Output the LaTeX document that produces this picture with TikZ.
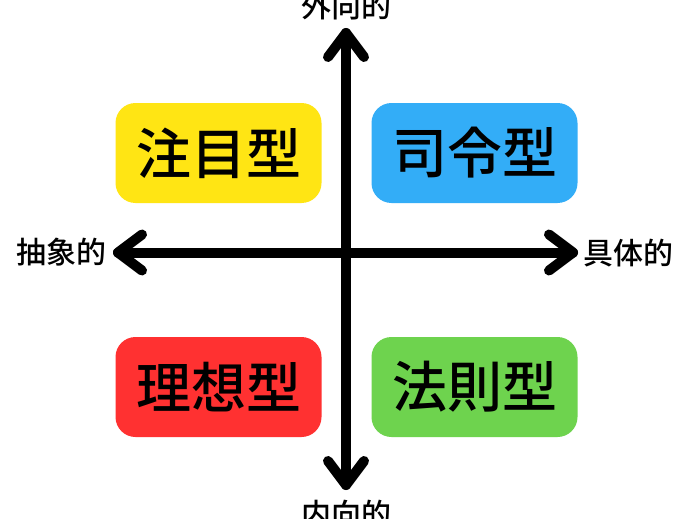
\documentclass[tikz,border=0pt]{standalone}
\usepackage{fontspec}
\newfontfamily\cjk{Noto Sans CJK JP Medium}
\definecolor{cyellow}{HTML}{FFE514}
\definecolor{cblue}{HTML}{33ADF7}
\definecolor{cred}{HTML}{FF3131}
\definecolor{cgreen}{HTML}{6ED34E}
\begin{document}
\begin{tikzpicture}[x=1pt,y=-1pt,
  quad/.style={rounded corners=20pt, minimum width=206pt, minimum height=100pt, inner sep=0pt,
    font=\cjk\fontsize{55}{60}\selectfont, text=black},
  axislbl/.style={font=\cjk\fontsize{30}{34}\selectfont, inner sep=0pt, text=black},
  axisline/.style={line width=10pt, line cap=round, line join=round, black}]
\useasboundingbox (0,0) rectangle (691,519);
\fill[white] (0,0) rectangle (691,519);
% quadrant boxes
\node[quad, fill=cyellow] (att) at (218.5,153) {注目型};
\node[quad, fill=cblue] (com) at (474.5,153) {司令型};
\node[quad, fill=cred] (ide) at (218.5,387) {理想型};
\node[quad, fill=cgreen] (law) at (474.5,387) {法則型};
% axis end points
\coordinate (top) at (346,33);
\coordinate (bot) at (346,485);
\coordinate (lft) at (118,252.5);
\coordinate (rgt) at (573,252.5);
% axes
\draw[axisline] (top) -- (bot);
\draw[axisline] (lft) -- (rgt);
% arrowheads (chevrons)
\draw[axisline] ([shift={(-18,24)}]top) -- (top) -- ([shift={(18,24)}]top);
\draw[axisline] ([shift={(-18,-24)}]bot) -- (bot) -- ([shift={(18,-24)}]bot);
\draw[axisline] ([shift={(24,-18)}]lft) -- (lft) -- ([shift={(24,18)}]lft);
\draw[axisline] ([shift={(-24,-18)}]rgt) -- (rgt) -- ([shift={(-24,18)}]rgt);
% labels
\node[axislbl] (ext) at (346,6) {外向的};
\node[axislbl] (int) at (346,514) {内向的};
\node[axislbl] (abs) at (61.5,252) {抽象的};
\node[axislbl] (con) at (628,253) {具体的};
\end{tikzpicture}
\end{document}
